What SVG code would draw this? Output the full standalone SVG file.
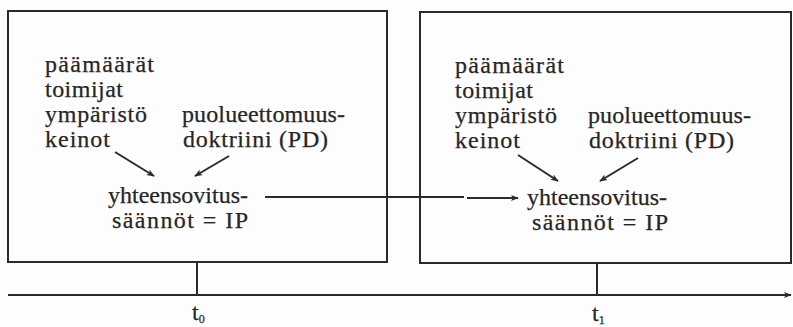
<svg xmlns="http://www.w3.org/2000/svg" width="793" height="327" viewBox="0 0 793 327">
  <style>
    .frame { fill: none; stroke: #2b2b2b; stroke-width: 2; }
    .line { fill: none; stroke: #2b2b2b; stroke-width: 2; }
    .lbl { font-family: "Liberation Serif", "Times New Roman", serif; font-size: 24px; fill: #262626; stroke: #262626; stroke-width: 0.25px; }
    .sub { font-family: "Liberation Serif", "Times New Roman", serif; font-size: 12px; fill: #262626; }
  </style>
  <defs>
    <marker id="head" viewBox="0 0 10 10" refX="9" refY="5" markerWidth="8" markerHeight="8" markerUnits="userSpaceOnUse" orient="auto">
      <path d="M0,1 L10,5 L0,9 L2.5,5 Z" fill="#2b2b2b"/>
    </marker>
  </defs>
  <rect width="793" height="327" fill="#fdfdfd"/>

  <!-- time axis with ticks -->
  <g id="axis">
    <line class="line" x1="8" y1="295" x2="791" y2="295" marker-end="url(#head)"/>
    <line class="line" x1="197" y1="262" x2="197" y2="295"/>
    <line class="line" x1="597" y1="263" x2="597" y2="295"/>
    <text class="lbl" x="192" y="320">t<tspan class="sub" dy="3">0</tspan></text>
    <text class="lbl" x="592" y="321">t<tspan class="sub" dy="3">1</tspan></text>
  </g>

  <!-- state at t0 -->
  <g id="state-t0">
    <rect class="frame" x="8" y="11" width="379" height="251"/>
    <text class="lbl" x="45" y="72" textLength="109" lengthAdjust="spacing">päämäärät</text>
    <text class="lbl" x="45" y="97" textLength="78" lengthAdjust="spacing">toimijat</text>
    <text class="lbl" x="45" y="122" textLength="102" lengthAdjust="spacing">ympäristö</text>
    <text class="lbl" x="45" y="147" textLength="65" lengthAdjust="spacing">keinot</text>
    <text class="lbl" x="182" y="122" textLength="163" lengthAdjust="spacing">puolueettomuus-</text>
    <text class="lbl" x="183" y="147" textLength="145" lengthAdjust="spacing">doktriini (PD)</text>
    <text class="lbl" x="108" y="203" textLength="140" lengthAdjust="spacing">yhteensovitus-</text>
    <text class="lbl" x="112" y="228" textLength="136" lengthAdjust="spacing">säännöt = IP</text>
  </g>

  <!-- state at t1 -->
  <g id="state-t1">
    <rect class="frame" x="420" y="12" width="371" height="251"/>
    <text class="lbl" x="455" y="73" textLength="109" lengthAdjust="spacing">päämäärät</text>
    <text class="lbl" x="455" y="98" textLength="78" lengthAdjust="spacing">toimijat</text>
    <text class="lbl" x="455" y="123" textLength="102" lengthAdjust="spacing">ympäristö</text>
    <text class="lbl" x="455" y="148" textLength="65" lengthAdjust="spacing">keinot</text>
    <text class="lbl" x="588" y="123" textLength="163" lengthAdjust="spacing">puolueettomuus-</text>
    <text class="lbl" x="589" y="148" textLength="145" lengthAdjust="spacing">doktriini (PD)</text>
    <text class="lbl" x="527" y="205" textLength="140" lengthAdjust="spacing">yhteensovitus-</text>
    <text class="lbl" x="532" y="230" textLength="136" lengthAdjust="spacing">säännöt = IP</text>
  </g>

  <!-- connectors -->
  <g id="connectors">
    <line class="line" x1="115" y1="152" x2="154" y2="176" marker-end="url(#head)"/>
    <line class="line" x1="229" y1="156" x2="195" y2="176" marker-end="url(#head)"/>
    <line class="line" x1="518" y1="155" x2="558" y2="181" marker-end="url(#head)"/>
    <line class="line" x1="638" y1="158" x2="600" y2="181" marker-end="url(#head)"/>
    <line class="line" x1="265" y1="197" x2="464" y2="197"/>
    <line class="line" x1="467" y1="198" x2="518" y2="198" marker-end="url(#head)"/>
  </g>
</svg>
